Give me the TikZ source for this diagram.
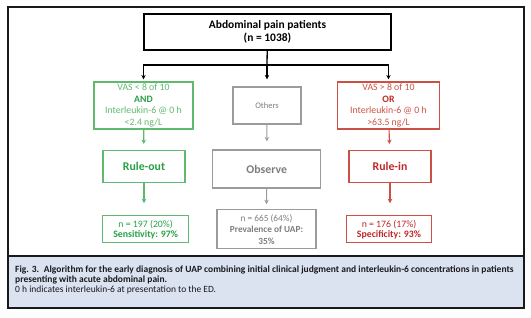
\documentclass[tikz,border=0pt]{standalone}
\usepackage{fontspec}
\setmainfont{Carlito}
\usetikzlibrary{arrows.meta}
\definecolor{leaf}{RGB}{95,185,110}
\definecolor{leafdark}{RGB}{40,160,70}
\definecolor{brick}{RGB}{205,80,70}
\definecolor{brickdark}{RGB}{190,40,40}
\definecolor{stone}{RGB}{155,155,155}
\definecolor{stonedark}{RGB}{125,125,125}
\definecolor{capfill}{RGB}{219,227,240}
\definecolor{ink}{RGB}{25,25,30}
\tikzset{
  >={Stealth[length=4.5pt,width=4.5pt]},
  head/.style={draw=black,line width=1.6pt,inner sep=0pt,align=center,
    font=\fontsize{11.5}{13}\selectfont\bfseries},
  cond/.style={draw=#1,text=#1,line width=1.1pt,inner sep=0pt,align=center,
    font=\fontsize{9.8}{11.4}\selectfont},
  cond/.default=leaf,
  verdict/.style={draw=#1,line width=1.2pt,inner sep=0pt,align=center,
    font=\fontsize{11.8}{13}\selectfont\bfseries},
  verdict/.default=leaf,
  tally/.style={draw=#1,line width=1.1pt,inner sep=0pt,align=center,
    font=\fontsize{9.8}{10.2}\selectfont},
  tally/.default=leaf,
  link/.style={->,line width=1.1pt,draw=#1},
  link/.default=black,
}
\begin{document}
\begin{tikzpicture}[x=1pt,y=-1pt]
  \useasboundingbox (0,0) rectangle (531,318);
  % frame and caption panel
  \fill[capfill] (8,256) rectangle (524,308);
  \draw[ink,line width=1.5pt] (8,7) rectangle (524,308);
  \draw[ink,line width=1.2pt] (8,256) -- (524,256);
  \node[anchor=north west,align=left,inner sep=0pt,
    font=\fontsize{9.5}{10}\selectfont,text=ink] (cap) at (15,265.5)
    {\textbf{Fig. 3.\enspace Algorithm for the early diagnosis of UAP combining initial clinical judgment and interleukin-6 concentrations in patients}\\
     \textbf{presenting with acute abdominal pain.}\\
     0 h indicates interleukin-6 at presentation to the ED.};

  % top
  \node[head,minimum width=247pt,minimum height=36pt] (pat) at (267.5,32)
    {Abdominal pain patients\\(n = 1038)};
  \coordinate (split) at (267,65);

  % criteria
  \node[cond,minimum width=99pt,minimum height=47pt] (low) at (143.5,105.5)
    {VAS < 8 of 10\\\textbf{\color{leafdark}AND}\\Interleukin-6 @ 0 h\\<2.4 ng/L};
  \node[cond=stonedark,draw=stone,minimum width=68pt,minimum height=37pt,
    font=\fontsize{8.5}{10}\selectfont] (rest) at (267,105.5)
    {Others};
  \node[cond=brick,minimum width=102pt,minimum height=47pt] (high) at (388.5,105.5)
    {VAS > 8 of 10\\\textbf{\color{brickdark}OR}\\Interleukin-6 @ 0 h\\>63.5 ng/L};

  % decisions
  \node[verdict,text=leafdark,minimum width=82pt,minimum height=32pt] (out) at (144,166.7) {Rule-out};
  \node[verdict=stone,text=stonedark,minimum width=108pt,minimum height=38pt] (obs) at (266.7,169) {Observe};
  \node[verdict=brick,text=brickdark,minimum width=82pt,minimum height=32pt] (in) at (390,166.7) {Rule-in};

  % outcomes
  \node[tally,text=leafdark,minimum width=86pt,minimum height=27pt] (sens) at (145.7,229.3)
    {n = 197 (20\%)\\\textbf{Sensitivity: 97\%}};
  \node[tally=stone,text=stonedark,minimum width=99pt,minimum height=39pt,
    font=\fontsize{9.3}{11.5}\selectfont] (prev) at (266.5,229.3)
    {n = 665 (64\%)\\\textbf{Prevalence of UAP:}\\\textbf{35\%}};
  \node[tally=brick,text=brickdark,minimum width=85pt,minimum height=27pt] (spec) at (389,229.3)
    {n = 176 (17\%)\\\textbf{Specificity: 93\%}};

  % connectors
  \draw[line width=1.3pt] (pat) -- (split);
  \draw[link,line width=1.3pt,shorten >=2pt] (split) -| (low.north);
  \draw[link,line width=1.3pt,shorten >=2pt] (split) -| (high.north);
  \draw[link,line width=1.3pt,shorten >=7pt] (split) -- (rest.north);
  \draw[link=leaf,shorten >=6pt] (low) -- (out);
  \draw[link=stone,shorten >=8pt] (rest) -- (obs);
  \draw[link=brick,shorten >=6pt] (high) -- (in);
  \draw[link=leaf,shorten >=12pt] (out) -- (out |- sens.north);
  \draw[link=stone,shorten >=5pt] (obs) -- (prev);
  \draw[link=brick,shorten >=12pt] (in) -- (in |- spec.north);
\end{tikzpicture}
\end{document}
